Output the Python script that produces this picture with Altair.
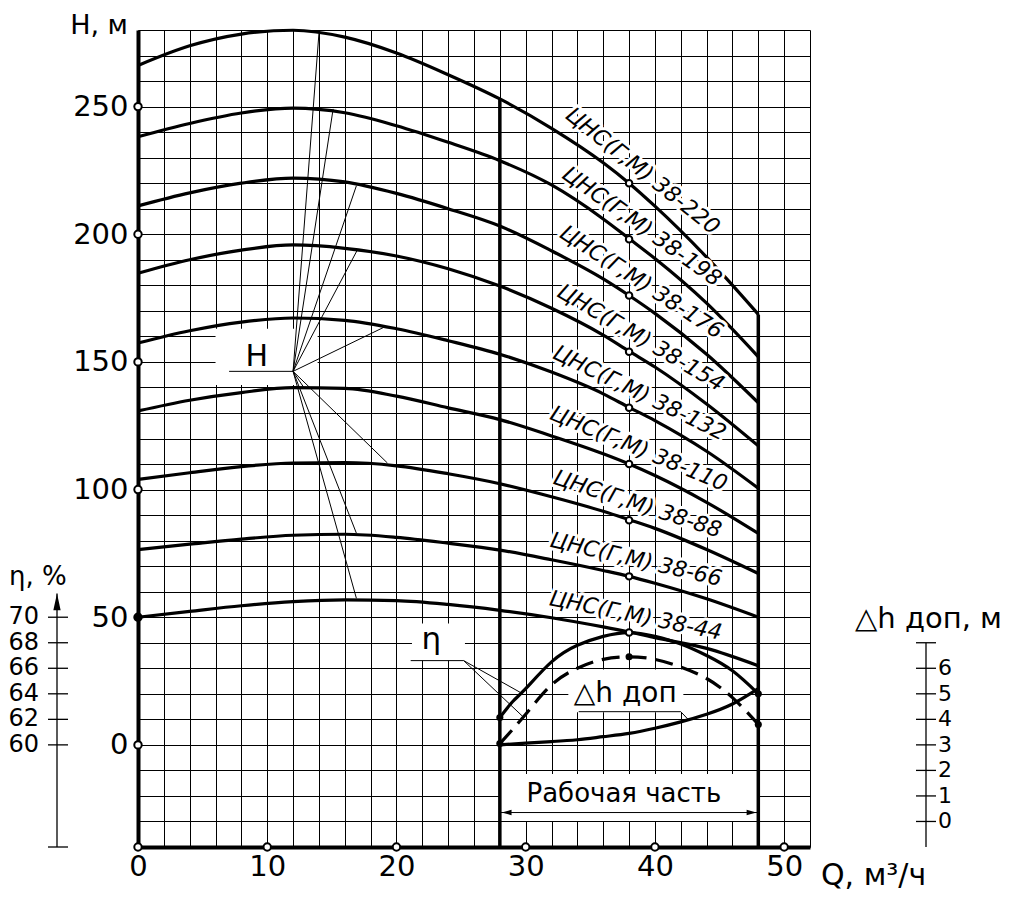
import altair as alt
import pandas as pd

# ---------------- values ----------------
Q_PTS = [0, 4, 8, 12, 16, 20, 24, 28, 32, 36, 38, 40, 44, 48]

H_38_220 = [266.1, 273.8, 278.4, 279.9, 277.2, 271.0, 262.5, 253.0, 241.5, 228.0, 220.0, 211.0, 191.0, 168.6]
H_38_198 = [238.2, 243.4, 247.5, 249.4, 247.6, 242.5, 236.0, 228.8, 219.3, 206.0, 198.3, 190.5, 173.0, 152.0]
H_38_176 = [211.1, 216.2, 220.0, 222.0, 220.5, 216.0, 210.0, 203.2, 193.5, 182.5, 176.0, 169.0, 153.0, 134.0]
H_38_154 = [184.7, 190.0, 193.8, 195.8, 194.5, 191.5, 186.5, 179.7, 171.0, 160.5, 154.2, 148.0, 133.5, 117.1]
H_38_132 = [157.4, 162.2, 165.6, 167.2, 166.3, 163.0, 158.3, 153.0, 146.0, 137.5, 132.2, 127.0, 115.0, 100.5]
H_38_110 = [130.8, 135.0, 138.0, 139.9, 139.6, 136.6, 132.0, 127.4, 121.0, 114.0, 110.0, 105.5, 95.0, 82.8]
H_38_88 = [104.0, 106.6, 109.0, 110.4, 110.6, 109.3, 106.2, 102.3, 97.2, 91.5, 88.2, 84.8, 76.5, 67.1]
H_38_66 = [76.5, 78.6, 80.6, 82.1, 82.5, 81.3, 79.0, 76.3, 72.5, 68.3, 66.0, 63.3, 57.2, 50.0]
H_38_44 = [50.0, 52.3, 54.5, 56.1, 56.8, 56.5, 55.0, 52.7, 49.8, 46.2, 44.2, 42.0, 37.8, 31.0]

MODELS = ["38-220", "38-198", "38-176", "38-154", "38-132", "38-110", "38-88", "38-66", "38-44"]
H_SERIES = [H_38_220, H_38_198, H_38_176, H_38_154, H_38_132, H_38_110, H_38_88, H_38_66, H_38_44]
NOMINAL_Q = 38
NOMINAL_H = [220, 198, 176, 154, 132, 110, 88, 66, 44]

# efficiency (solid), efficiency (dashed), in %
ETA1_Q = [28, 29, 30, 32, 34, 36, 38, 40, 42, 44, 46, 48]
ETA1 = [62.15, 63.4, 64.4, 66.5, 67.8, 68.5, 68.8, 68.5, 67.9, 67.0, 65.8, 64.0]
ETA2_Q = [28, 30, 32, 34, 36, 38, 40, 42, 44, 46, 48]
ETA2 = [60.1, 62.4, 64.7, 66.0, 66.7, 66.9, 66.7, 66.1, 65.2, 63.7, 61.6]
# permissible NPSH, m
DH_Q = [28, 30, 32, 34, 36, 38, 40, 42, 44, 46, 48]
DH = [3.0, 3.07, 3.13, 3.2, 3.32, 3.45, 3.65, 3.9, 4.2, 4.6, 5.2]

WORK_Q = [28, 48]

H_TICKS = [0, 50, 100, 150, 200, 250]
Q_TICKS = [0, 10, 20, 30, 40, 50]
ETA_TICKS = [60, 62, 64, 66, 68, 70]
ETA_AXIS = [52, 71.85]
DH_TICKS = [0, 1, 2, 3, 4, 5, 6]
DH_AXIS = [-1, 7]

# leader lines of the notes: origin and the curve points they point to
H_NOTE = [12.0, 146.3]
H_NOTE_LINE_START = 7.05
H_LEAD_Q = [14.0, 15.1, 16.9, 17.0, 19.0, 12.8, 19.3, 16.9, 16.9]
H_LEAD_H = [278.6, 249.1, 219.0, 194.1, 163.5, 140.2, 110.4, 82.9, 57.4]
ETA_NOTE = [25.2, 33.0]
ETA_NOTE_LINE_START = 21.1
ETA_LEAD_Q = [29.6, 29.8]
ETA_LEAD_H = [20.5, 11.0]
DH_NOTE = [42.0, 13.0]
DH_NOTE_LINE_START = 34.1
DH_LEAD = [42.6, 9.8]

LABEL_ANGLES = [38.5, 35.5, 33, 30.5, 26, 22.5, 18, 13, 11.5]

FONT = "DejaVu Sans"

# ---------------- helpers ----------------
xs = alt.Scale(domain=[0, 52], nice=False, zero=False)
ys = alt.Scale(domain=[-40, 280], nice=False, zero=False)
x_axis = alt.Axis(values=list(range(0, 53, 2)),
                  labelExpr="datum.value % 10 == 0 && datum.value <= 50 ? datum.label : ''",
                  grid=True, gridColor="#000", gridWidth=1, gridOpacity=1,
                  ticks=False, domain=True, domainColor="#000", domainWidth=4,
                  labelFont=FONT, labelFontSize=29, labelColor="#000", labelPadding=5,
                  labelFlush=False, labelOverlap=False, labelBound=False, title=None)
y_axis = alt.Axis(values=list(range(-40, 281, 10)),
                  labelExpr="datum.value % 50 == 0 && datum.value >= 0 ? datum.label : ''",
                  grid=True, gridColor="#000", gridWidth=1, gridOpacity=1,
                  ticks=False, domain=True, domainColor="#000", domainWidth=4,
                  labelFont=FONT, labelFontSize=29, labelColor="#000", labelPadding=10,
                  labelFlush=False, labelOverlap=False, labelBound=False, title=None)


def X(f="Q"):
    return alt.X(f + ":Q", scale=xs, axis=x_axis)


def Y(f="H"):
    return alt.Y(f + ":Q", scale=ys, axis=y_axis)


layers = []

# ---- H(Q) curves ----
rows = []
for m, hs in zip(MODELS, H_SERIES):
    for q, h in zip(Q_PTS, hs):
        rows.append({"model": m, "Q": q, "H": h})
curve_df = pd.DataFrame(rows)

# white boxes behind notes
box_df = pd.DataFrame({"Q": [6.0, 21.2, 33.3, WORK_Q[0]], "Q2": [13.9, 25.3, 42.2, WORK_Q[1]],
                       "H": [141.0, 33.0, 12.8, -11.4], "H2": [163.0, 47.5, 29.5, -29.8]})
layers.append(alt.Chart(box_df).mark_rect(fill="white").encode(x=X(), x2="Q2:Q", y=Y(), y2="H2:Q"))

# leader lines
lead_rows = [{"Q": H_NOTE_LINE_START, "H": H_NOTE[1], "Q2": H_NOTE[0], "H2": H_NOTE[1]}]
for q, h in zip(H_LEAD_Q, H_LEAD_H):
    lead_rows.append({"Q": H_NOTE[0], "H": H_NOTE[1], "Q2": q, "H2": h})
lead_rows.append({"Q": ETA_NOTE_LINE_START, "H": ETA_NOTE[1], "Q2": ETA_NOTE[0], "H2": ETA_NOTE[1]})
for q, h in zip(ETA_LEAD_Q, ETA_LEAD_H):
    lead_rows.append({"Q": ETA_NOTE[0], "H": ETA_NOTE[1], "Q2": q, "H2": h})
lead_rows.append({"Q": DH_NOTE_LINE_START, "H": DH_NOTE[1], "Q2": DH_NOTE[0], "H2": DH_NOTE[1]})
lead_rows.append({"Q": DH_NOTE[0], "H": DH_NOTE[1], "Q2": DH_LEAD[0], "H2": DH_LEAD[1]})
lead_df = pd.DataFrame(lead_rows)
layers.append(alt.Chart(lead_df).mark_rule(color="black", strokeWidth=1)
              .encode(x=X(), y=Y(), x2="Q2:Q", y2="H2:Q"))

# H curves
layers.append(alt.Chart(curve_df).mark_line(color="black", strokeWidth=3.2, interpolate="monotone")
              .encode(x=X(), y=Y(), detail="model:N"))

# label data + white halos over the curves
lab_df = pd.DataFrame({"model": MODELS, "Q": [NOMINAL_Q] * len(MODELS), "H": NOMINAL_H,
                       "txt": ["ЦНС(Г,М) " + m for m in MODELS]})
for i, m in enumerate(MODELS):
    d = lab_df[lab_df.model == m]
    layers.append(alt.Chart(d).mark_text(angle=LABEL_ANGLES[i], align="center", baseline="alphabetic",
                                         dx=3, dy=-11, font=FONT, fontSize=22, fontStyle="italic",
                                         fill="white", stroke="white", strokeWidth=6, strokeJoin="round")
                  .encode(x=X(), y=Y(), text="txt:N"))

# working range boundaries
top_idx = [Q_PTS.index(q) for q in WORK_Q]
work_df = pd.DataFrame({"Q": WORK_Q, "H": [-40, -40], "Htop": [H_38_220[i] for i in top_idx]})
layers.append(alt.Chart(work_df).mark_rule(color="black", strokeWidth=3.5)
              .encode(x=X(), y=Y(), y2="Htop:Q"))

# efficiency curves
eta1_df = pd.DataFrame({"Q": ETA1_Q, "eta": ETA1})
eta2_df = pd.DataFrame({"Q": ETA2_Q, "eta": ETA2})
dh_df = pd.DataFrame({"Q": DH_Q, "dh": DH})
layers.append(alt.Chart(eta1_df).transform_calculate(H="(datum.eta - 60) * 5")
              .mark_line(color="black", strokeWidth=3.2, interpolate="natural").encode(x=X(), y=Y()))
layers.append(alt.Chart(eta2_df).transform_calculate(H="(datum.eta - 60) * 5")
              .mark_line(color="black", strokeWidth=3.2, strokeDash=[18, 9], interpolate="natural")
              .encode(x=X(), y=Y()))
layers.append(alt.Chart(dh_df).transform_calculate(H="(datum.dh - 3) * 10")
              .mark_line(color="black", strokeWidth=3.2, interpolate="natural").encode(x=X(), y=Y()))

# working range arrow
arr_df = pd.DataFrame({"Q": [WORK_Q[0]], "Q2": [WORK_Q[1]], "H": [-26.5]})
layers.append(alt.Chart(arr_df).mark_rule(color="black", strokeWidth=1).encode(x=X(), x2="Q2:Q", y=Y()))
layers.append(alt.Chart(pd.DataFrame({"Q": [WORK_Q[0] + 0.15], "H": [-26.5]}))
              .mark_point(shape="M0,0L1,-0.28L1,0.28Z", filled=True, color="black", size=380, opacity=1)
              .encode(x=X(), y=Y()))
layers.append(alt.Chart(pd.DataFrame({"Q": [WORK_Q[1] - 0.15], "H": [-26.5]}))
              .mark_point(shape="M0,0L-1,-0.28L-1,0.28Z", filled=True, color="black", size=380, opacity=1)
              .encode(x=X(), y=Y()))

# curve labels (text)
for i, m in enumerate(MODELS):
    d = lab_df[lab_df.model == m]
    layers.append(alt.Chart(d).mark_text(angle=LABEL_ANGLES[i], align="center", baseline="alphabetic",
                                         dx=3, dy=-11, font=FONT, fontSize=22, fontStyle="italic",
                                         color="black")
                  .encode(x=X(), y=Y(), text="txt:N"))

# axis tick circles
tick_df = pd.DataFrame({"Q": [0] * len(H_TICKS) + Q_TICKS, "H": H_TICKS + [-40] * len(Q_TICKS)})
layers.append(alt.Chart(tick_df).mark_point(shape="circle", filled=True, fill="white", stroke="black",
                                            strokeWidth=2, size=55, opacity=1)
              .encode(x=X(), y=Y()))

# filled dots on the efficiency / NPSH curves and the start of the lowest curve
fdots = pd.DataFrame({
    "Q": [ETA1_Q[0], ETA2_Q[0], ETA2_Q[5], ETA1_Q[-1], ETA2_Q[-1], Q_PTS[0]],
    "H": [(ETA1[0] - 60) * 5, (ETA2[0] - 60) * 5, (ETA2[5] - 60) * 5, (ETA1[-1] - 60) * 5,
          (ETA2[-1] - 60) * 5, H_38_44[0]]})
layers.append(alt.Chart(fdots).mark_circle(color="black", size=50, opacity=1).encode(x=X(), y=Y()))

# open dots at nominal points
layers.append(alt.Chart(lab_df).mark_point(shape="circle", filled=True, fill="white", stroke="black",
                                           strokeWidth=2, size=42, opacity=1)
              .encode(x=X(), y=Y()))

# notes
note_df = pd.DataFrame({"Q": [9.2, 22.7, 37.7, 37.6], "H": [148.3, 37.6, 16.6, -22.2],
                        "txt": ["H", "η", "△h доп", "Рабочая часть"], "k": [0, 1, 2, 3]})
note_sizes = [30, 31, 28, 26]
for k, fs in enumerate(note_sizes):
    layers.append(alt.Chart(note_df[note_df.k == k]).mark_text(align="center", baseline="alphabetic",
                                                               font=FONT, fontSize=fs, color="black")
                  .encode(x=X(), y=Y(), text="txt:N"))

# ---- η axis (left, drawn) ----
eta_axis_df = pd.DataFrame({"e1": [ETA_AXIS[0]], "e2": [ETA_AXIS[1]]})
layers.append(alt.Chart(eta_axis_df).transform_calculate(H="(datum.e1 - 60) * 5", H2="(datum.e2 - 60) * 5")
              .mark_rule(color="black", strokeWidth=1.3).encode(x=alt.value(-81), y=Y(), y2="H2:Q"))
layers.append(alt.Chart(pd.DataFrame({"e": [ETA_AXIS[1]]})).transform_calculate(H="(datum.e - 60) * 5")
              .mark_point(shape="M0,0L-0.22,1L0.22,1Z", filled=True, color="black", size=1100, opacity=1)
              .encode(x=alt.value(-81), y=Y()))
eta_tick_df = pd.DataFrame({"e": [ETA_AXIS[0]] + ETA_TICKS})
layers.append(alt.Chart(eta_tick_df).transform_calculate(H="(datum.e - 60) * 5")
              .mark_rule(color="black", strokeWidth=1.3)
              .encode(x=alt.value(-90), x2=alt.value(-70), y=Y()))
eta_lab_df = pd.DataFrame({"e": ETA_TICKS, "txt": [str(v) for v in ETA_TICKS]})
layers.append(alt.Chart(eta_lab_df).transform_calculate(H="(datum.e - 60) * 5")
              .mark_text(align="right", baseline="middle", font=FONT, fontSize=24, color="black")
              .encode(x=alt.value(-99), y=Y(), text="txt:N"))

# ---- Δh axis (right, drawn) ----
dh_axis_df = pd.DataFrame({"d1": [DH_AXIS[0]], "d2": [DH_AXIS[1]]})
layers.append(alt.Chart(dh_axis_df).transform_calculate(H="(datum.d1 - 3) * 10", H2="(datum.d2 - 3) * 10")
              .mark_rule(color="black", strokeWidth=1.3).encode(x=alt.value(788), y=Y(), y2="H2:Q"))
dh_tick_df = pd.DataFrame({"d": DH_TICKS + [DH_AXIS[1]]})
layers.append(alt.Chart(dh_tick_df).transform_calculate(H="(datum.d - 3) * 10")
              .mark_rule(color="black", strokeWidth=1.3)
              .encode(x=alt.value(778), x2=alt.value(798), y=Y()))
dh_lab_df = pd.DataFrame({"d": DH_TICKS, "txt": [str(v) for v in DH_TICKS]})
layers.append(alt.Chart(dh_lab_df).transform_calculate(H="(datum.d - 3) * 10")
              .mark_text(align="left", baseline="middle", font=FONT, fontSize=22, color="black")
              .encode(x=alt.value(800), y=Y(), text="txt:N"))

# ---- axis titles ----
titles = [("H, м", -10, 4, "right", 27), ("η, %", -129, 555, "left", 26),
          ("△h доп, м", 717, 598, "left", 29), ("Q, м³/ч", 683, 855, "left", 30)]
for t, px, py, al, fs in titles:
    layers.append(alt.Chart(pd.DataFrame({"txt": [t]}))
                  .mark_text(align=al, baseline="alphabetic", font=FONT, fontSize=fs, color="black")
                  .encode(x=alt.value(px), y=alt.value(py), text="txt:N"))

chart = alt.layer(*layers).properties(
    width=672, height=817,
    padding={"left": 130, "top": 22, "right": 200, "bottom": 44},
    autosize=alt.AutoSizeParams(type="none"),
    background="white",
).configure_view(stroke=None)

chart.save("out.html", embed_options={"renderer": "svg", "actions": False})
